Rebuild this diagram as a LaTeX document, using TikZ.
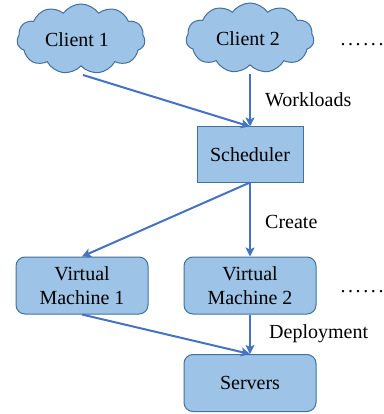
\documentclass[tikz,border=0pt]{standalone}
\usepackage{fontspec}
\setmainfont{Liberation Serif}
\usetikzlibrary{shapes.symbols,arrows.meta}
\definecolor{boxfill}{HTML}{9DC3E6}
\definecolor{boxdraw}{HTML}{41719C}
\definecolor{arr}{HTML}{4472C4}
\newcommand{\mydots}{.\kern2.6pt.\kern2.6pt.\kern2.6pt.\kern2.6pt.\kern2.6pt.}
\begin{document}
\begin{tikzpicture}[x=1pt,y=-1pt,
  every node/.style={font=\fontsize{20}{24}\selectfont},
  cloudnode/.style={cloud, cloud puffs=11, cloud puff arc=110, aspect=1.9, draw=boxdraw, fill=boxfill, line width=1pt, minimum width=128pt, minimum height=70pt, inner sep=0pt},
  rectbox/.style={draw=boxdraw, fill=boxfill, line width=1pt, minimum width=106pt, minimum height=55pt, inner sep=0pt},
  roundbox/.style={draw=boxdraw, fill=boxfill, line width=1pt, rounded corners=9pt, minimum width=132pt, minimum height=57pt, inner sep=0pt, align=center},
  conn/.style={draw=arr, line width=2pt, -{Stealth[length=9pt,width=9pt,inset=2pt]}},
  lbl/.style={anchor=west, inner sep=0pt}]
\useasboundingbox (0,0) rectangle (383,414);
\node[cloudnode] (c1) at (81,39) {};
\node at (77,40) {Client 1};
\node[cloudnode] (c2) at (250,38) {};
\node at (248,39) {Client 2};
\node[inner sep=0pt] (dots1) at (362,45) {\mydots};
\node[rectbox] (sch) at (250,154.5) {Scheduler};
\node[roundbox] (vm1) at (82,285.5) {Virtual\\Machine 1};
\node[roundbox] (vm2) at (250,285.5) {Virtual\\Machine 2};
\node[inner sep=0pt] (dots2) at (362,292) {\mydots};
\node[roundbox] (srv) at (250,383) {Servers};
\coordinate (c1b) at (83,75);
\coordinate (c2b) at (250,74);
\draw[conn] (c1b) -- (sch.north);
\draw[conn] (c2b) -- (sch.north);
\draw[conn] (sch.south) -- (vm1.north);
\draw[conn] (sch.south) -- (vm2.north);
\draw[conn] (vm1.south) -- (srv.north);
\draw[conn] (vm2.south) -- (srv.north);
\node[lbl] (wl) at (265,100) {Workloads};
\node[lbl] (cr) at (265,222) {Create};
\node[lbl] (dp) at (269,334) {Deployment};
\end{tikzpicture}
\end{document}
